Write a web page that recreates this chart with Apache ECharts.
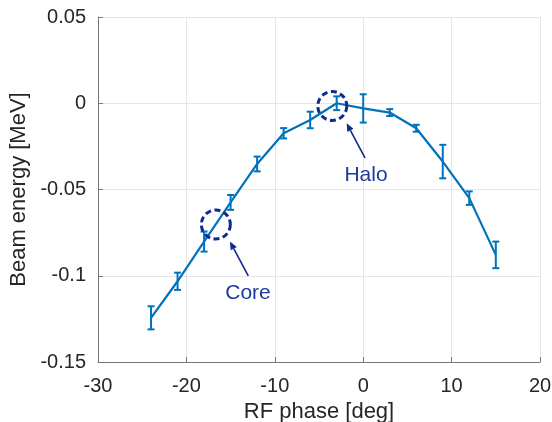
<!DOCTYPE html>
<html>
<head>
<meta charset="utf-8">
<script src="https://cdn.jsdelivr.net/npm/echarts@6/dist/echarts.min.js"></script>
<style>
html,body{margin:0;padding:0;background:#fff;}
#chart{width:552px;height:422px;}
</style>
</head>
<body>
<div id="chart"></div>
<script>
// ---- data ----
var phase = [-24, -21, -18, -15, -12, -9, -6, -3, 0, 3, 6, 9, 12, 15];
var energy = [-0.1244, -0.1032, -0.0802, -0.0575, -0.0352, -0.0174, -0.0097, 0.0, -0.0030, -0.0054, -0.0145, -0.0338, -0.0550, -0.0879];
var energyErr = [0.0067, 0.0050, 0.0058, 0.0043, 0.0043, 0.0030, 0.0048, 0.0040, 0.0082, 0.0020, 0.0020, 0.0097, 0.0039, 0.0077];
var xTicks = [-30, -20, -10, 0, 10, 20];
var xTickLabels = ['-30', '-20', '-10', '0', '10', '20'];
var yTicks = [-0.15, -0.1, -0.05, 0, 0.05];
var yTickLabels = ['-0.15', '-0.1', '-0.05', '0', '0.05'];
var circleCenters = [[-3.5, -0.0016], [-16.67, -0.0703]];
var arrowTails = [[0.2, -0.0317], [-13.0, -0.1001]];
var arrowTips = [[-1.87, -0.0116], [-15.07, -0.0802]];
var annotationNames = ['Halo', 'Core'];
var annotationAt = [[0.32, -0.0418], [-13.03, -0.1100]];

var FONT = 'Liberation Sans, Arial, Helvetica, sans-serif';
var LINE = '#0072BD';
var NAVY = '#0d2b8e';

function lookup(ticks, labels, v) {
  for (var i = 0; i < ticks.length; i++) if (Math.abs(ticks[i] - v) < 1e-9) return labels[i];
  return '';
}

var lineData = phase.map(function (p, i) { return [p, energy[i]]; });
var errData = phase.map(function (p, i) { return [p, energy[i], energyErr[i]]; });
var arrowData = arrowTails.map(function (t, i) { return [t[0], t[1], arrowTips[i][0], arrowTips[i][1]]; });
var textData = annotationAt.map(function (a, i) { return [a[0], a[1], annotationNames[i]]; });

var chart = echarts.init(document.getElementById('chart'), null, {renderer: 'canvas'});
chart.setOption({
  backgroundColor: '#ffffff',
  animation: false,
  grid: {left: 98, right: 12, top: 17, bottom: 60, containLabel: false, outerBoundsMode: 'none'},
  xAxis: {
    type: 'value', min: -30, max: 20, interval: 10,
    name: 'RF phase [deg]', nameLocation: 'middle', nameGap: 36,
    nameTextStyle: {fontFamily: FONT, fontSize: 22, color: '#262626'},
    axisLine: {onZero: false, lineStyle: {color: '#777', width: 1}},
    axisTick: {inside: true, length: 5, lineStyle: {color: '#777'}},
    axisLabel: {fontFamily: FONT, fontSize: 20, color: '#262626', margin: 14,
      formatter: function (v) { return lookup(xTicks, xTickLabels, v); }},
    splitLine: {show: true, lineStyle: {color: '#e6e6e6', width: 1}}
  },
  yAxis: {
    type: 'value', min: -0.15, max: 0.05, interval: 0.05,
    name: 'Beam energy [MeV]', nameLocation: 'middle', nameGap: 64, nameRotate: 90,
    nameTextStyle: {fontFamily: FONT, fontSize: 22, color: '#262626'},
    axisLine: {show: true, onZero: false, lineStyle: {color: '#777', width: 1}},
    axisTick: {show: true, inside: true, length: 5, lineStyle: {color: '#777'}},
    axisLabel: {fontFamily: FONT, fontSize: 20, color: '#262626', margin: 12,
      formatter: function (v) { return lookup(yTicks, yTickLabels, v); }},
    splitLine: {show: true, lineStyle: {color: '#e6e6e6', width: 1}}
  },
  series: [
    {
      type: 'line', data: lineData, showSymbol: false, symbol: 'none',
      lineStyle: {color: LINE, width: 2.2}, z: 3
    },
    {
      type: 'custom', data: errData, z: 4,
      encode: {x: 0, y: 1},
      renderItem: function (params, api) {
        var x = api.value(0), y = api.value(1), e = api.value(2);
        var hi = api.coord([x, y + e]);
        var lo = api.coord([x, y - e]);
        var hw = 3.5;
        var st = {stroke: LINE, lineWidth: 2};
        return {type: 'group', children: [
          {type: 'line', shape: {x1: hi[0], y1: hi[1], x2: lo[0], y2: lo[1]}, style: st},
          {type: 'line', shape: {x1: hi[0] - hw, y1: hi[1], x2: hi[0] + hw, y2: hi[1]}, style: st},
          {type: 'line', shape: {x1: lo[0] - hw, y1: lo[1], x2: lo[0] + hw, y2: lo[1]}, style: st}
        ]};
      }
    },
    {
      type: 'custom', data: circleCenters, z: 5,
      renderItem: function (params, api) {
        var c = api.coord([api.value(0), api.value(1)]);
        return {type: 'circle', shape: {cx: c[0], cy: c[1], r: 14.5},
          style: {fill: 'none', stroke: NAVY, lineWidth: 3, lineDash: [6, 3.5]}};
      }
    },
    {
      type: 'custom', data: arrowData, z: 5,
      renderItem: function (params, api) {
        var t = api.coord([api.value(0), api.value(1)]);
        var h = api.coord([api.value(2), api.value(3)]);
        var dx = h[0] - t[0], dy = h[1] - t[1];
        var L = Math.sqrt(dx * dx + dy * dy);
        var ux = dx / L, uy = dy / L;
        var hl = 8, hwid = 3.5;
        var bx = h[0] - ux * hl, by = h[1] - uy * hl;
        return {type: 'group', children: [
          {type: 'line', shape: {x1: t[0], y1: t[1], x2: bx, y2: by},
            style: {stroke: NAVY, lineWidth: 1.6}},
          {type: 'polygon', shape: {points: [[h[0], h[1]],
            [bx - uy * hwid, by + ux * hwid], [bx + uy * hwid, by - ux * hwid]]},
            style: {fill: NAVY}}
        ]};
      }
    },
    {
      type: 'custom', data: textData, z: 6,
      renderItem: function (params, api) {
        var c = api.coord([api.value(0), api.value(1)]);
        return {type: 'text', x: c[0], y: c[1],
          style: {text: textData[params.dataIndex][2], fill: '#1d3a9e',
            font: '21px ' + FONT, align: 'center', verticalAlign: 'middle'}};
      }
    }
  ]
});
</script>
</body>
</html>
